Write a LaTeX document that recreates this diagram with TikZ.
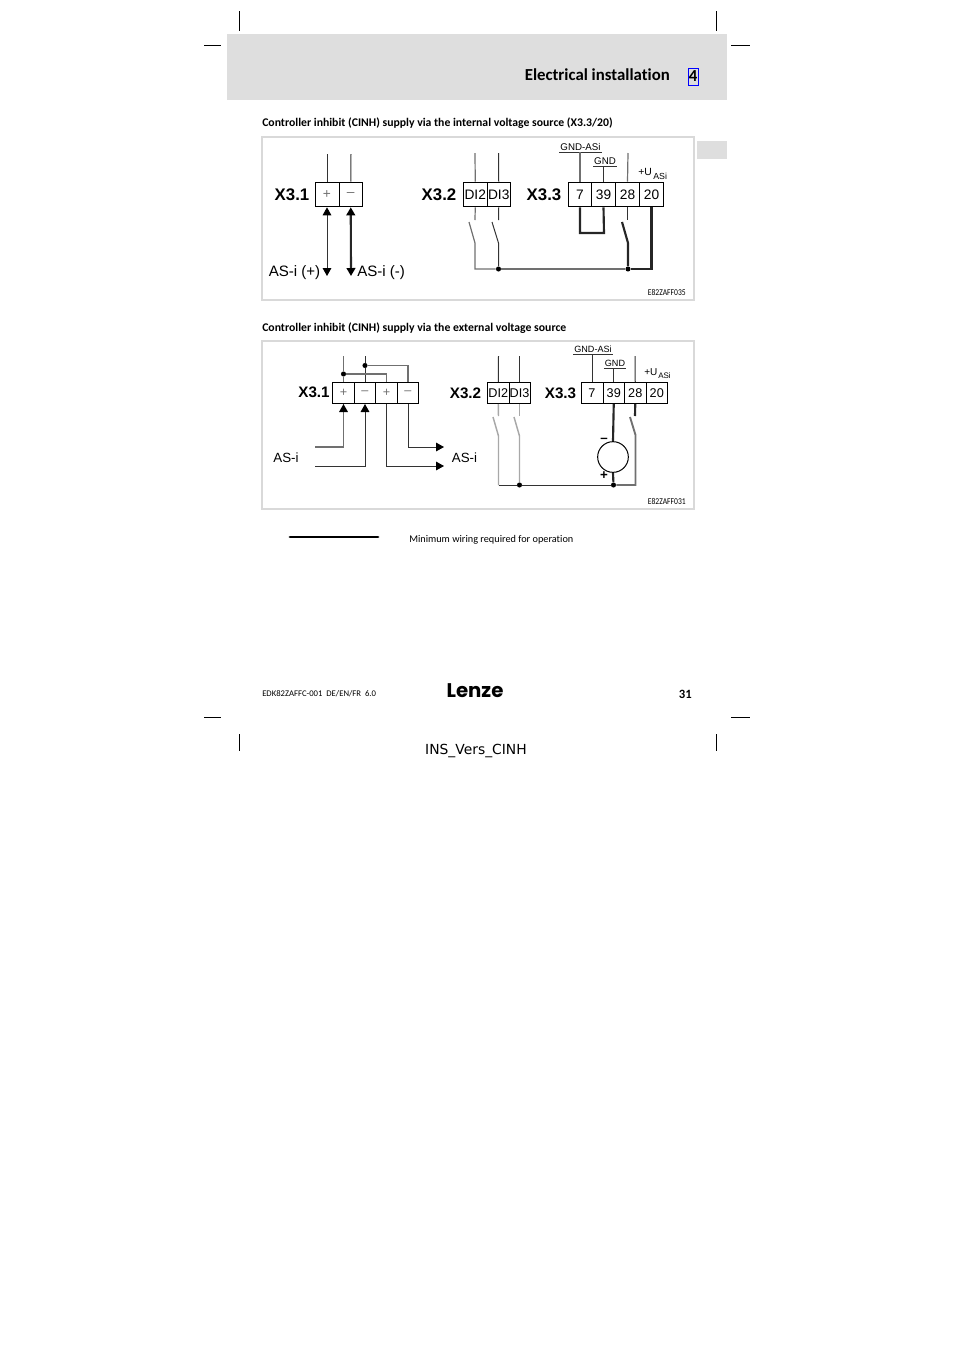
\documentclass[tikz,border=0pt]{standalone}
\usepackage{xcolor}
\usepackage{fontspec}
\setmainfont{Liberation Sans}
\newfontfamily\pagefont[Ligatures=NoCommon]{Carlito}
\newfontfamily\logofont{Poppins}
\newfontfamily\notefont{DejaVu Sans}
\usepackage{tikz}
\usetikzlibrary{arrows.meta,fit,positioning}
\definecolor{bandgray}{HTML}{DEDEDE}
\definecolor{framegray}{HTML}{D9D9D9}
\definecolor{wiregray}{HTML}{707070}
\definecolor{softgray}{HTML}{A8A8A8}

\begin{document}
\begin{tikzpicture}[x=0.75pt,y=-0.75pt,
	wire/.style = {line width=0.75pt,black!80},
	gwire/.style = {line width=0.9pt,wiregray},
	swire/.style = {line width=1.1pt,softgray},
	heavy/.style = {line width=1.6pt,black!85},
	arrow/.style = {-{Triangle[length=6pt,width=6.5pt,black]}},
	both/.style = {{Triangle[length=6pt,width=6.5pt,black]}-{Triangle[length=6pt,width=6.5pt,black]}},
	term/.style = {draw=black,line width=0.75pt,inner sep=0pt,minimum height=18.5pt,font=\fontsize{10.3}{12}\selectfont},
	termb/.style = {term,minimum height=15.75pt,font=\fontsize{9.5}{11}\selectfont},
	frame/.style = {draw=framegray,line width=1.5pt},
	dot/.style = {circle,fill=black,inner sep=0pt,minimum size=3.8pt},
	head/.style = {inner sep=0pt,anchor=west,font=\pagefont\bfseries\fontsize{8.8}{10}\selectfont},
	blab/.style = {inner sep=0pt,font=\bfseries\fontsize{12.6}{15}\selectfont},
	blabb/.style = {inner sep=0pt,font=\bfseries\fontsize{11.4}{14}\selectfont},
	slab/.style = {inner sep=0pt,font=\fontsize{11.3}{13}\selectfont},
	ulab/.style = {inner sep=0.6pt,font=\fontsize{7.3}{8}\selectfont},
	ulabb/.style = {inner sep=0.6pt,font=\fontsize{6.8}{8}\selectfont},
	ref/.style = {inner sep=0pt,anchor=east,font=\pagefont\fontsize{6.7}{8}\selectfont}]

	\useasboundingbox (0,0) rectangle (954,1350);

	% Seite
	\node[fit={(227,34) (727,100)}, inner sep=0pt, fill=bandgray] (band) {};
	\node[fit={(697,141) (727,159)}, inner sep=0pt, fill=bandgray] (tab) {};
	\foreach \cx in {239,716} {
		\draw[line width=0.75pt] (\cx,11) -- (\cx,31);
		\draw[line width=0.75pt] (\cx,734) -- (\cx,751);
	}
	\foreach \cy in {45,717} {
		\draw[line width=0.75pt] (204,\cy) -- (221,\cy);
		\draw[line width=0.75pt] (731,\cy) -- (750,\cy);
	}
	\node[inner sep=0pt, anchor=east, font=\pagefont\bfseries\fontsize{12.6}{15}\selectfont] (title) at (670,75) {Electrical installation};
	\node[draw=blue, line width=0.75pt, inner sep=0pt, minimum width=7.5pt, minimum height=12.75pt, font=\pagefont\bfseries\fontsize{12.6}{15}\selectfont] (chap) at (693,76.5) {4};
	\node[head] (heada) at (262,122.7) {Controller inhibit (CINH) supply via the internal voltage source (X3.3/20)};
	\node[head] (headb) at (262,327.7) {Controller inhibit (CINH) supply via the external voltage source};

	% Interne Versorgung
	\node[fit={(262,136.5) (694,300)}, inner sep=0pt, frame] (framea) {};
	\foreach \tname/\xa/\xb/\ttext in {
		ap/315/339/\textcolor{wiregray}{+},am/339/362.5/\textcolor{wiregray}{–},
		adi2/463.5/487/DI2,adi3/487/510.5/DI3,
		a7/568.5/591.5/7,a39/591.5/615.5/39,a28/615.5/639.5/28,a20/639.5/663.5/20} {
		\pgfmathsetmacro{\tw}{(\xb-\xa)*0.75}
		\node[term, minimum width=\tw pt] (\tname) at ({(\xa+\xb)/2},194.5) {\ttext};
	}

	\node[blab] (lax1) at (292,194.5) {X3.1};
	\node[blab] (lax2) at (439,194.5) {X3.2};
	\node[blab] (lax3) at (544,194.5) {X3.3};

	\coordinate (aptop) at (327,154);
	\coordinate (amtop) at (351,154);
	\coordinate (apend) at (327,276);
	\coordinate (amend) at (351,276);
	\draw[wire] (ap.north) -- (aptop);
	\draw[wire] (am.north) -- (amtop);
	\draw[wire,both] (ap.south) -- (apend);
	\draw[heavy,both] (am.south) -- (amend);
	\node[slab, anchor=east] (lasip) at (320.5,272.5) {AS-i (+)};
	\node[slab, anchor=west] (lasim) at (357,272.5) {AS-i (-)};

	\coordinate (a2top) at (475,153);
	\coordinate (a3top) at (498.5,153);
	\coordinate (a2stub) at (475,220);
	\coordinate (a3stub) at (498.5,220);
	\draw[gwire] (adi2.north) -- (a2top);
	\draw[wire] (adi3.north) -- (a3top);
	\draw[gwire] (adi2.south) -- (a2stub);
	\draw[wire] (adi3.south) -- (a3stub);

	\node[dot] (adota) at (498.5,269) {};
	\node[dot] (adotb) at (628,269) {};
	\coordinate (abus) at (475,269);
	\draw[gwire] (469,222) -- (475,243) -- (abus) -- (adota);
	\draw[gwire] (adota) -- (adotb);
	\draw[wire] (492,222) -- (498.5,243) -- (adota);

	\node[ulab, anchor=south] (lagndasi) at (580.5,152) {GND-ASi};
	\node[ulab, anchor=south] (lagnd) at (605,166) {GND};
	\draw[wire] (lagndasi.south west) -- (lagndasi.south east);
	\draw[wire] (lagnd.south west) -- (lagnd.south east);
	\draw[gwire] (a7.north) -- (a7.north |- lagndasi.south);
	\draw[wire] (a39.north) -- (a39.north |- lagnd.south);
	\coordinate (a28top) at (628,153);
	\draw[gwire] (a28.north) -- (a28top);
	\node[ulab, anchor=west, inner sep=0pt, font=\fontsize{7.8}{9}\selectfont] (lauasi) at (638,172) {+U};
	\node[ulab, anchor=west, inner sep=0pt, font=\fontsize{6.6}{7}\selectfont] (lausub) at (653,176) {ASi};

	\coordinate (aloopa) at (580,233);
	\coordinate (aloopb) at (604,233);
	\draw[heavy] (a7.south) -- (aloopa) -- (aloopb) -- (a39.south);
	\coordinate (a28stub) at (627.5,220);
	\draw[wire] (a28.south) -- (a28stub);
	\coordinate (a20low) at (651.5,269);
	\draw[heavy] (622,222) -- (628,243) -- (adotb);
	\draw[heavy] (a20.south) -- (a20low) -- (adotb);
	\node[ref] (refa) at (686,292.5) {\scalebox{0.85}[1]{E82ZAFF035}};

	% Externe Versorgung
	\node[fit={(262,341) (694,509)}, inner sep=0pt, frame] (frameb) {};
	\foreach \tname/\xa/\xb/\ttext in {
		bpa/332.5/354.5/\textcolor{wiregray}{+},bma/354.5/375.5/\textcolor{wiregray}{–},
		bpb/375.5/397.5/\textcolor{wiregray}{+},bmb/397.5/418.5/\textcolor{wiregray}{–},
		bdi2/487.5/509/DI2,bdi3/509/530/DI3,
		b7/581/603/7,b39/603/624.5/39,b28/624.5/646/28,b20/646/667.5/20} {
		\pgfmathsetmacro{\tw}{(\xb-\xa)*0.75}
		\node[termb, minimum width=\tw pt] (\tname) at ({(\xa+\xb)/2},393) {\ttext};
	}

	\node[blabb] (lbx1) at (314,392.5) {X3.1};
	\node[blabb] (lbx2) at (465.5,393.5) {X3.2};
	\node[blabb] (lbx3) at (560.5,393.5) {X3.3};

	\node[dot] (bdota) at (343.5,374) {};
	\node[dot] (bdotb) at (365,365.5) {};
	\coordinate (bpatop) at (343.5,356);
	\coordinate (bmatop) at (365,356);
	\coordinate (bjoina) at (386.5,374);
	\coordinate (bjoinb) at (408,365.5);
	\draw[gwire] (bpa.north) -- (bdota) -- (bpatop);
	\draw[wire] (bma.north) -- (bdotb) -- (bmatop);
	\draw[gwire] (bdota) -- (bjoina) -- (bpb.north);
	\draw[gwire] (bdotb) -- (bjoinb) -- (bmb.north);

	\coordinate (bina) at (315,447);
	\coordinate (binb) at (315,466);
	\coordinate (bcorna) at (343.5,447);
	\coordinate (bcornb) at (365,466);
	\coordinate (bouta) at (444,447);
	\coordinate (boutb) at (444,466);
	\coordinate (bcornc) at (408,447);
	\coordinate (bcornd) at (386.5,466);
	\draw[gwire,arrow] (bina) -- (bcorna) -- (bpa.south);
	\draw[wire,arrow] (binb) -- (bcornb) -- (bma.south);
	\draw[wire,arrow] (bmb.south) -- (bcornc) -- (bouta);
	\draw[wire,arrow] (bpb.south) -- (bcornd) -- (boutb);
	\node[slab, font=\fontsize{10}{12}\selectfont] (lbasia) at (286,458) {AS-i};
	\node[slab, font=\fontsize{10}{12}\selectfont] (lbasib) at (464.5,458) {AS-i};

	\coordinate (b2top) at (498.5,356);
	\coordinate (b3top) at (519.5,356);
	\coordinate (b2stub) at (498.5,416);
	\coordinate (b3stub) at (519.5,416);
	\draw[wire] (bdi2.north) -- (b2top);
	\draw[wire] (bdi3.north) -- (b3top);
	\draw[swire] (bdi2.south) -- (b2stub);
	\draw[swire] (bdi3.south) -- (b3stub);

	\node[dot] (bdotc) at (519.5,485) {};
	\node[dot] (bdotd) at (613.5,485) {};
	\coordinate (bbus) at (498.5,485);
	\draw[swire] (493,417) -- (498.5,436) -- (bbus);
	\draw[swire] (514,417) -- (519.5,436) -- (bdotc);
	\draw[wire] (bbus) -- (bdotc) -- (bdotd);

	\node[ulabb, anchor=south] (lbgndasi) at (593,354) {GND-ASi};
	\node[ulabb, anchor=south] (lbgnd) at (615,368) {GND};
	\draw[wire] (lbgndasi.south west) -- (lbgndasi.south east);
	\draw[wire] (lbgnd.south west) -- (lbgnd.south east);
	\draw[wire] (b7.north) -- (b7.north |- lbgndasi.south);
	\draw[wire] (b39.north) -- (b39.north |- lbgnd.south);
	\coordinate (b28top) at (635,356);
	\draw[wire] (b28.north) -- (b28top);
	\node[ulab, anchor=west, inner sep=0pt, font=\fontsize{7.5}{9}\selectfont] (lbuasi) at (644,372) {+U};
	\node[ulab, anchor=west, inner sep=0pt, font=\fontsize{6}{7}\selectfont] (lbusub) at (658,376) {ASi};

	\node[circle, draw=black, line width=0.75pt, inner sep=0pt, minimum size=23pt] (src) at (613,457) {};
	\draw[heavy] (b39.south) -- (src.north);
	\draw[heavy] (src.south) -- (bdotd);
	\node[inner sep=0pt, font=\bfseries\fontsize{10}{12}\selectfont] (lminus) at (604,440) {–};
	\node[inner sep=0pt, font=\bfseries\fontsize{10}{12}\selectfont] (lplus) at (604,476) {+};
	\coordinate (b28stub) at (635,416);
	\coordinate (b28low) at (635.5,485);
	\draw[heavy] (b28.south) -- (b28stub);
	\draw[gwire,line width=1.4pt] (630,417) -- (635.5,435) -- (b28low) -- (bdotd);
	\node[ref] (refb) at (686,501.5) {\scalebox{0.85}[1]{E82ZAFF031}};

	% Legende
	\coordinate (legl) at (290,537);
	\coordinate (legr) at (378,537);
	\draw[line width=2.2pt, line cap=round] (legl) -- (legr);
	\node[inner sep=0pt, anchor=west, font=\pagefont\fontsize{7.7}{9}\selectfont] (legtext) at (409,539.5) {Minimum wiring required for operation};

	% Fuss
	\node[inner sep=0pt, anchor=west, font=\pagefont\fontsize{6.5}{8}\selectfont] (docno) at (262,694) {EDK82ZAFFC-001\ \ DE/EN/FR\ \ 6.0};
	\node[inner sep=0pt, font=\logofont\bfseries\fontsize{14.8}{18}\selectfont] (logo) at (475,690.5) {Lenze};
	\node[inner sep=0pt, anchor=east, font=\pagefont\bfseries\fontsize{9.5}{11}\selectfont] (pageno) at (692,694) {31};
	\node[inner sep=0pt, font=\notefont\fontsize{10.4}{12}\selectfont] (insname) at (476,750.5) {INS\_Vers\_CINH};
\end{tikzpicture}
\end{document}
